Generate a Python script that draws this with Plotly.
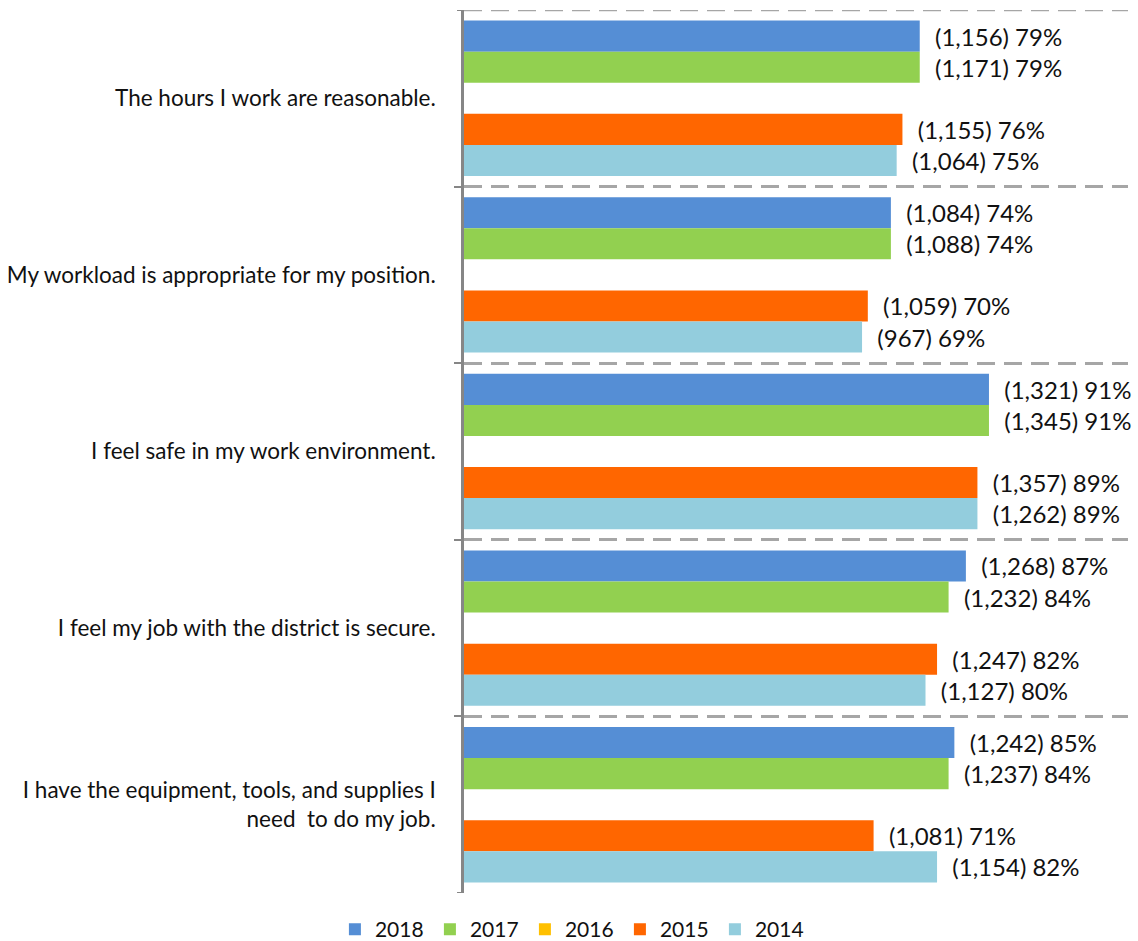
import plotly.graph_objects as go

# Survey statements (top to bottom)
statements = [
    "The hours I work are reasonable.",
    "My workload is appropriate for my position.",
    "I feel safe in my work environment.",
    "I feel my job with the district is secure.",
    "I have the equipment, tools, and supplies I<br>need\u00a0 to do my job.",
]

years = ["2018", "2017", "2016", "2015", "2014"]
colors = ["#558ED5", "#92D050", "#FFC000", "#FF6600", "#93CDDD"]

# Share agreeing (%) and number of respondents, per year
pct_2018 = [79, 74, 91, 87, 85]
pct_2017 = [79, 74, 91, 84, 84]
pct_2016 = [None, None, None, None, None]
pct_2015 = [76, 70, 89, 82, 71]
pct_2014 = [75, 69, 89, 80, 82]

n_2018 = [1156, 1084, 1321, 1268, 1242]
n_2017 = [1171, 1088, 1345, 1232, 1237]
n_2016 = [None, None, None, None, None]
n_2015 = [1155, 1059, 1357, 1247, 1081]
n_2014 = [1064, 967, 1262, 1127, 1154]

pcts = [pct_2018, pct_2017, pct_2016, pct_2015, pct_2014]
counts = [n_2018, n_2017, n_2016, n_2015, n_2014]

FONT = "Lato"
TEXT = "#111111"
AXIS = "#868686"
GRID = "#A6A6A6"
idx = list(range(len(statements)))

fig = go.Figure()
for year, color, p, n in zip(years, colors, pcts, counts):
    x = [v / 100 if v is not None else None for v in p]
    text = [
        "\u00a0\u00a0({:,}) {}%".format(c, v) if v is not None else ""
        for c, v in zip(n, p)
    ]
    fig.add_trace(go.Bar(
        name=year,
        y=idx,
        x=x,
        orientation="h",
        marker=dict(color=color, line=dict(width=0)),
        text=text,
        textposition="outside",
        textfont=dict(family=FONT, size=24, color=TEXT),
        constraintext="none",
        cliponaxis=False,
        hoverinfo="skip",
    ))

fig.update_layout(
    width=1138,
    height=941,
    barmode="group",
    bargap=0.12,
    bargroupgap=0,
    plot_bgcolor="white",
    paper_bgcolor="white",
    margin=dict(l=464, r=10, t=10, b=48, autoexpand=False),
    font=dict(family=FONT, size=22.5, color=TEXT),
    showlegend=True,
    legend=dict(
        orientation="h",
        xref="container",
        yref="paper",
        x=0.503,
        xanchor="center",
        y=-0.0415,
        yanchor="middle",
        font=dict(family=FONT, size=21, color=TEXT),
        entrywidth=50,
        traceorder="normal",
    ),
    xaxis=dict(
        range=[0, 1.151],
        showticklabels=False,
        showgrid=False,
        zeroline=False,
        showline=False,
        ticks="",
    ),
    yaxis=dict(
        range=[4.5, -0.5],
        tickmode="array",
        tickvals=idx,
        ticktext=statements,
        ticks="",
        ticklabelstandoff=21,
        showgrid=False,
        zeroline=False,
        showline=True,
        linecolor=AXIS,
        linewidth=2.5,
        minor=dict(
            tickmode="array",
            tickvals=[0.5, 1.5, 2.5, 3.5],
            ticks="outside",
            ticklen=7,
            tickwidth=2,
            tickcolor=AXIS,
            showgrid=True,
            gridcolor=GRID,
            gridwidth=2.5,
            griddash="18px,9px",
        ),
    ),
)

# dashed separator along the top edge and tick marks at both ends of the category axis
fig.add_shape(
    type="line", xref="paper", yref="y",
    x0=0, x1=1, y0=-0.5, y1=-0.5,
    line=dict(color=GRID, width=2.5, dash="18px,9px"),
)
for yb in (-0.5, 4.5):
    fig.add_shape(
        type="line", xref="paper", yref="y",
        x0=-0.0105, x1=0, y0=yb, y1=yb,
        line=dict(color=AXIS, width=2),
    )

fig.write_html("out.html")
